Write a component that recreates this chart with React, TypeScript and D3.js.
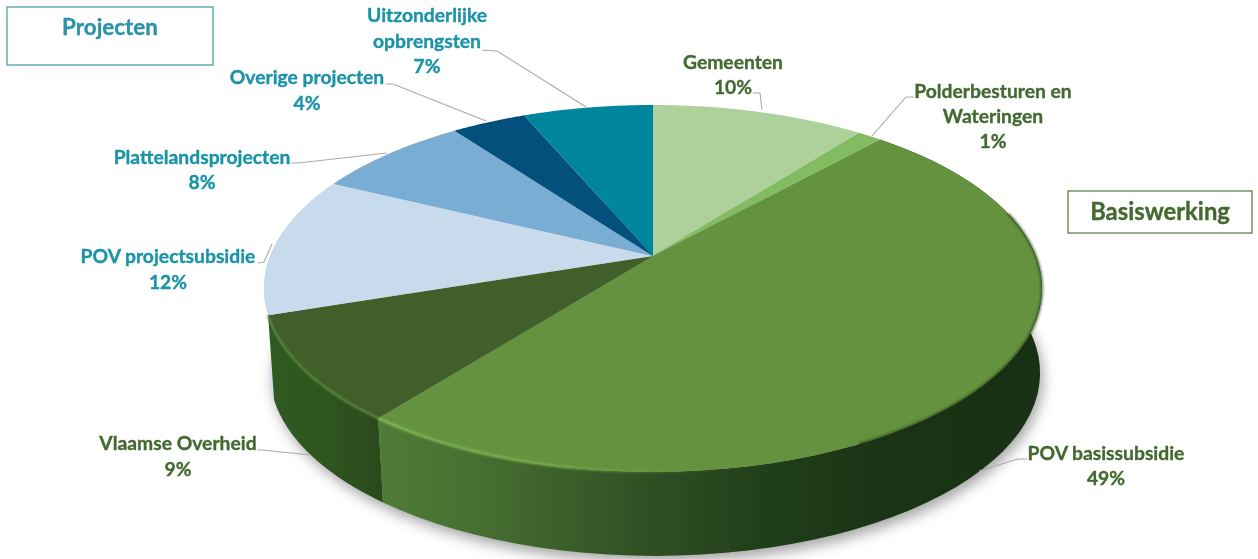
import React from 'react';
import * as d3 from 'd3';

const categories = ['Gemeenten','Polderbesturen en Wateringen','POV basissubsidie','Vlaamse Overheid','POV projectsubsidie','Plattelandsprojecten','Overige projecten','Uitzonderlijke opbrengsten'];
const shares = [10.5,1.2,48.9,9.3,12.3,7.7,3.7,6.4];
const percentLabels = ['10%','1%','49%','9%','12%','8%','4%','7%'];
const topColors = ['#aed09a','#82bb60','#65923f','#405f2a','#c8dbec','#7aadd4','#04507c','#00859f'];

const GREEN = '#43692f';
const TEAL = '#1a93a8';

type Lbl = { lines: string[]; cx: number; ys: number[]; color: string; leader: [number,number][] };
const labelLayout: Lbl[] = [
  { lines:['Gemeenten'], cx:733, ys:[69], color:GREEN, leader:[[753,93],[760,93],[762,110]] },
  { lines:['Polderbesturen en','Wateringen'], cx:993, ys:[98,123], color:GREEN, leader:[[872,136],[906,97],[914,97]] },
  { lines:['POV basissubsidie'], cx:1106, ys:[460], color:GREEN, leader:[[1027,459],[1018,459],[979,471]] },
  { lines:['Vlaamse Overheid'], cx:178, ys:[450], color:GREEN, leader:[[257,450],[262,450],[311,455]] },
  { lines:['POV projectsubsidie'], cx:168, ys:[263], color:TEAL, leader:[[258,263],[264,262],[272,244]] },
  { lines:['Plattelandsprojecten'], cx:202, ys:[164], color:TEAL, leader:[[291,163],[298,163],[387,153]] },
  { lines:['Overige projecten'], cx:307, ys:[84], color:TEAL, leader:[[386,84],[393,84],[486,121]] },
  { lines:['Uitzonderlijke','opbrengsten'], cx:427, ys:[22,48], color:TEAL, leader:[[482,50],[497,51],[586,107]] },
];
const percentYs = [94,148,485,476,289,189,110,73];

// perspective of the disc
const K = 0.1769;
const top = { cx:653, cy:256, A:382.9, B:177.7 };
const bot = { cx:655, cy:340.6, A:379, B:177.2 };
const project = (p: typeof top, a: number): [number,number] => {
  const u = Math.sin(a), v = -Math.cos(a), w = 1/(1-K*v);
  return [p.cx + p.A*u*w, p.cy + p.B*v*w];
};
const sample = (a0: number, a1: number) => d3.range(0, 61).map(i => a0 + (a1-a0)*i/60);

const line = d3.line().curve(d3.curveLinear);
const arcs = d3.pie<number>().sort(null).value(d => d)(shares);
const color = d3.scaleOrdinal<number,string>().domain(d3.range(shares.length)).range(topColors);

const wallGradients: Record<number,[number,string][]> = {
  2: [[380,'#4f7c36'],[470,'#477032'],[560,'#3c5f2b'],[650,'#2f4f22'],[760,'#213f1a'],[880,'#1a3415'],[1043,'#183014']],
  3: [[270,'#2f5a22'],[320,'#2e561f'],[360,'#2d4f1e'],[385,'#2b471a']],
};

export default function App() {
  const font = 'Lato, "Noto Sans", sans-serif';
  const wallPath = (i: number) => {
    const s = sample(arcs[i].startAngle, arcs[i].endAngle);
    const pts = [...s.map(a => project(top, a)), ...s.slice().reverse().map(a => project(bot, a))];
    return line(pts as [number,number][]) + 'Z';
  };
  const slicePath = (i: number) => {
    const s = sample(arcs[i].startAngle, arcs[i].endAngle);
    return line([[top.cx, top.cy], ...s.map(a => project(top, a))] as [number,number][]) + 'Z';
  };
  const outline = line(sample(0, 2*Math.PI).map(a => project(bot, a)) as [number,number][]) + 'Z';
  const rim = (i: number) => line(sample(arcs[i].startAngle, arcs[i].endAngle).map(a => project(top, a)) as [number,number][]) || '';
  const darkRim = line(sample(Math.PI*0.42, Math.PI*0.85).map(a => project(top, a)) as [number,number][]) || '';
  return (
    <svg width={1258} height={559} style={{position:'absolute',left:0,top:0,background:'#fff'}} fontFamily={font}>
      <defs>
        {Object.entries(wallGradients).map(([k, stops]) => {
          const x0 = stops[0][0], x1 = stops[stops.length-1][0];
          return (
            <linearGradient key={k} id={`wall${k}`} gradientUnits="userSpaceOnUse" x1={x0} x2={x1} y1={0} y2={0}>
              {stops.map(([x,c]) => <stop key={x} offset={(x-x0)/(x1-x0)} stopColor={c}/>)}
            </linearGradient>
          );
        })}
        <linearGradient id="rimPov" gradientUnits="userSpaceOnUse" x1={380} x2={720} y1={0} y2={0}>
          <stop offset={0} stopColor="#86c25a" stopOpacity={0.95}/>
          <stop offset={0.5} stopColor="#7fb850" stopOpacity={0.8}/>
          <stop offset={1} stopColor="#65923f" stopOpacity={0}/>
        </linearGradient>
        <filter id="shadow" x="-10%" y="-10%" width="120%" height="120%"><feGaussianBlur stdDeviation="7"/></filter>
        <filter id="soft" x="-5%" y="-5%" width="110%" height="110%"><feGaussianBlur stdDeviation="1.2"/></filter>
        <filter id="txt" x="-5%" y="-20%" width="110%" height="140%"><feGaussianBlur stdDeviation="0.35"/></filter>
      </defs>

      <path d={outline} fill="#000" opacity={0.36} filter="url(#shadow)" transform="translate(3,6)"/>

      <path d={wallPath(4)} fill="#cfe1f0"/>
      <path d={wallPath(3)} fill="url(#wall3)"/>
      <path d={wallPath(2)} fill="url(#wall2)"/>

      <g>
        {arcs.map((_, i) => <path key={i} d={slicePath(i)} fill={color(i)}/>)}
      </g>
      <path d={darkRim} fill="none" stroke="#1c3517" strokeWidth={2.5} filter="url(#soft)" opacity={0.6}/>
      <path d={rim(3)} fill="none" stroke="#5c8a3e" strokeWidth={2} filter="url(#soft)"/>
      <path d={rim(2)} fill="none" stroke="url(#rimPov)" strokeWidth={2.5} filter="url(#soft)"/>

      <g fill="none" stroke="#a9a9a9" strokeWidth={1.1}>
        {labelLayout.map((l, i) => <path key={i} d={line(l.leader) || ''}/>)}
      </g>

      <g filter="url(#txt)" fontWeight={700} fontSize={19.3} textAnchor="middle" strokeWidth={0.35}>
        {labelLayout.map((l, i) => (
          <text key={i} fill={l.color} stroke={l.color}>
            {l.lines.map((t, j) => <tspan key={j} x={l.cx} y={l.ys[j]}>{t}</tspan>)}
            <tspan x={l.cx} y={percentYs[i]}>{percentLabels[i]}</tspan>
          </text>
        ))}
        <text x={110} y={35} fontSize={22.4} fill="#2e93a6" stroke="#2e93a6">Projecten</text>
        <text x={1160} y={220} fontSize={23.8} fill={GREEN} stroke={GREEN}>Basiswerking</text>
      </g>

      <rect x={7} y={7} width={206} height={58} fill="none" stroke="#6fb5be" strokeWidth={1.6}/>
      <rect x={1068} y={191} width={184} height={42} fill="none" stroke="#4d7a3c" strokeWidth={1.2}/>
    </svg>
  );
}
